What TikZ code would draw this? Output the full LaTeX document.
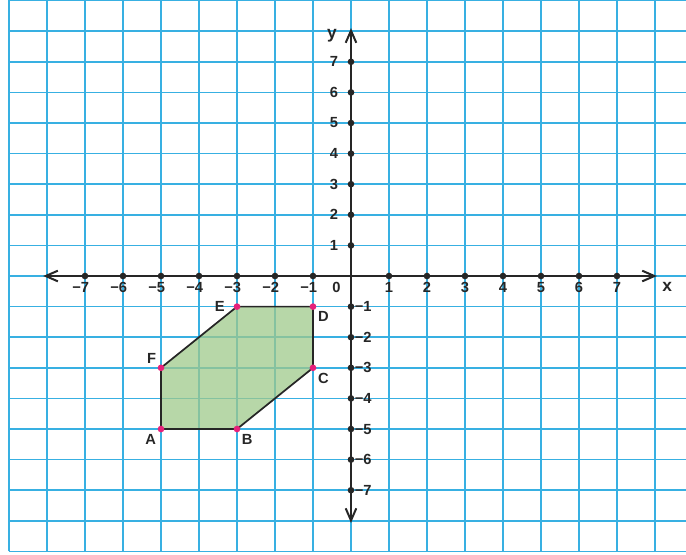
\documentclass[tikz,border=0pt]{standalone}
\usepackage{fontspec}
\setsansfont{Liberation Sans}
\usetikzlibrary{arrows.meta,positioning}
\definecolor{GridBlue}{HTML}{38B0E2}
\definecolor{Ink}{HTML}{262626}
\definecolor{ShapeGreen}{HTML}{9FC98B}
\definecolor{Pink}{HTML}{E6217A}

\begin{document}
\begin{tikzpicture}[
  x=1cm, y=0.8053cm,
  every node/.style={font=\fontsize{11}{13}\selectfont\sffamily\bfseries, text=Ink, inner sep=1pt},
  gridline/.style={draw=GridBlue, line width=1.3pt},
  axis/.style={draw=Ink, line width=1.5pt, {Straight Barb[length=3.2mm,width=2.8mm]}-{Straight Barb[length=3.2mm,width=2.8mm]}},
  tickdot/.style={circle, fill=Ink, inner sep=0pt, minimum size=5pt},
  vertex/.style={circle, fill=Pink, inner sep=0pt, minimum size=5pt},
  region/.style={fill=ShapeGreen, fill opacity=0.75, draw=Ink, line width=1.3pt, line join=round}
]
\useasboundingbox (-9.237,-9.085) rectangle (8.816,9.02);
% squared paper
\foreach \i in {-9,...,8}
  \draw[gridline] (\i,-9) -- (\i,9.02);
\foreach \j in {-9,...,9}
  \draw[gridline] (-9,\j) -- (8.816,\j);
% hexagon
\coordinate (A) at (-5,-5);
\coordinate (B) at (-3,-5);
\coordinate (C) at (-1,-3);
\coordinate (D) at (-1,-1);
\coordinate (E) at (-3,-1);
\coordinate (F) at (-5,-3);
\draw[region] (A) -- (B) -- (C) -- (D) -- (E) -- (F) -- cycle;
% axes
\coordinate (xmin) at (-8.1,0);
\coordinate (xmax) at (8.05,0);
\coordinate (ymin) at (0,-8.07);
\coordinate (ymax) at (0,8.1);
\draw[axis] (xmin) -- (xmax);
\draw[axis] (ymin) -- (ymax);
\foreach \n in {1,...,7} {
  \node[tickdot] (xp\n) at (\n,0) {};
  \node[tickdot] (xn\n) at (-\n,0) {};
  \node[tickdot] (yp\n) at (0,\n) {};
  \node[tickdot] (yn\n) at (0,-\n) {};
  \node (lxp\n) at (\n,-0.38) {\n};
  \node (lxn\n) at (-\n,-0.38) {\llap{−}\n};
  \node (lyp\n) at (-0.45,\n) {\n};
  \node[anchor=west] (lyn\n) at (0.06,-\n) {−\n};
}
\node (lo) at (-0.38,-0.37) {0};
\node[font=\fontsize{13}{15}\selectfont\sffamily\bfseries] (lx) at (8.32,-0.35) {x};
\node[font=\fontsize{13}{15}\selectfont\sffamily\bfseries] (ly) at (-0.5,7.85) {y};
% vertices
\foreach \v in {A,B,C,D,E,F}
  \node[vertex] (p\v) at (\v) {};
\node[below left=1pt of pA] (lA) {A};
\node[below right=1pt and 0.5pt of pB] (lB) {B};
\node[below right=1pt of pC] (lC) {C};
\node[below right=1pt of pD] (lD) {D};
\node[left=5.4pt of pE] (lE) {E};
\node[above left=0pt and 0.5pt of pF] (lF) {F};
\end{tikzpicture}
\end{document}
